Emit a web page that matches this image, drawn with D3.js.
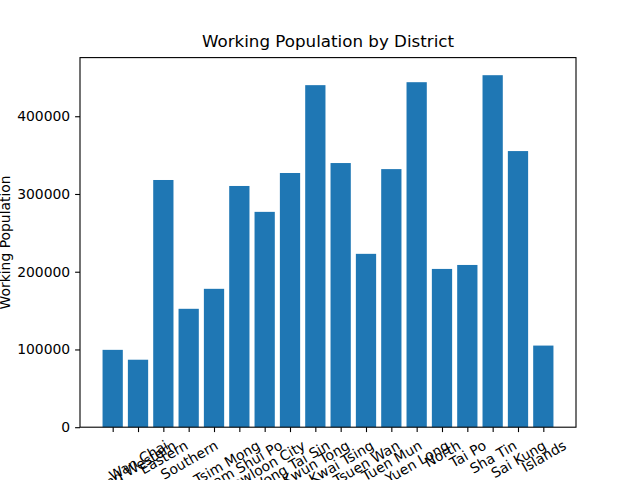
<!DOCTYPE html>
<html>
<head>
<meta charset="utf-8">
<script src="https://cdn.jsdelivr.net/npm/d3@7"></script>
<style>
  body { margin: 0; background: #fff; }
  text { font-family: "DejaVu Sans", sans-serif; fill: #000; }
</style>
</head>
<body>
<div class="chart"></div>
<script>
// districts and their working population
var districts = ['Central and Western', 'Wan Chai', 'Eastern', 'Southern', 'Yau Tsim Mong',
  'Sham Shui Po', 'Kowloon City', 'Wong Tai Sin', 'Kwun Tong', 'Kwai Tsing', 'Tsuen Wan',
  'Tuen Mun', 'Yuen Long', 'North', 'Tai Po', 'Sha Tin', 'Sai Kung', 'Islands'];
var workers = [99500, 86800, 318000, 152300, 178000, 310300, 277000, 327000, 440000,
  339800, 223000, 332000, 443800, 203600, 208700, 452800, 355200, 105000];
var yTicks = [0, 100000, 200000, 300000, 400000];

var margin = { top: 57.6, right: 64, bottom: 52.8, left: 80 };
var width = 640 - margin.left - margin.right;
var height = 480 - margin.top - margin.bottom;

var svg = d3.select('.chart')
  .append('svg')
    .attr('width', 640)
    .attr('height', 480)
  .append('g')
    .attr('transform', `translate(${margin.left}, ${margin.top})`);

// matplotlib style limits: bars of width 0.8 plus 5% margin
var barW = 0.8;
var lo = -barW / 2, hi = districts.length - 1 + barW / 2;
var pad = (hi - lo) * 0.05;
var xScale = d3.scaleLinear()
  .domain([lo - pad, hi + pad])
  .range([0, width]);

var yScale = d3.scaleLinear()
  .domain([0, d3.max(workers) * 1.05])
  .range([height, 0]);

svg.selectAll('rect.bar')
  .data(workers)
  .enter()
  .append('rect')
    .attr('class', 'bar')
    .attr('x', (d, i) => xScale(i - barW / 2))
    .attr('width', xScale(barW) - xScale(0))
    .attr('y', d => yScale(d))
    .attr('height', d => height - yScale(d))
    .style('fill', '#1f77b4');

// y axis
var yAxis = d3.axisLeft(yScale)
  .tickValues(yTicks)
  .tickFormat(d3.format('d'))
  .tickSizeInner(4.9)
  .tickSizeOuter(0)
  .tickPadding(4.9);

svg.append('g')
  .call(yAxis)
  .call(g => g.select('.domain').remove())
  .call(g => g.selectAll('text').style('font-size', '13.9px').style('font-family', '"DejaVu Sans"'))
  .call(g => g.selectAll('line').attr('stroke-width', 1.1));

// x axis
var xAxis = d3.axisBottom(xScale)
  .tickValues(d3.range(districts.length))
  .tickFormat(i => districts[i])
  .tickSizeInner(4.9)
  .tickSizeOuter(0);

var gx = svg.append('g')
  .attr('transform', `translate(0, ${height})`)
  .call(xAxis)
  .call(g => g.select('.domain').remove())
  .call(g => g.selectAll('line').attr('stroke-width', 1.1));

// rotate labels 30 degrees, centred like matplotlib (bbox centre on tick, bbox top below tick)
var lineH = 13.9 * 1.164;
var sin30 = Math.sin(Math.PI / 6), cos30 = Math.cos(Math.PI / 6);
gx.selectAll('.tick text')
  .style('font-size', '13.9px')
  .style('font-family', '"DejaVu Sans"')
  .attr('text-anchor', 'middle')
  .attr('dy', null)
  .attr('dominant-baseline', 'central')
  .each(function () {
    var w = this.getComputedTextLength();
    var bh = w * sin30 + lineH * cos30;
    var cy = 4.9 + 4.9 + bh / 2;
    d3.select(this)
      .attr('y', 0)
      .attr('x', 0)
      .attr('transform', `translate(0, ${cy}) rotate(-30)`);
  });

// frame
svg.append('rect')
  .attr('width', width)
  .attr('height', height)
  .style('fill', 'none')
  .style('stroke', '#000')
  .style('stroke-width', 1.1);

// title and y label
svg.append('text')
  .attr('x', width / 2)
  .attr('y', -10.8)
  .attr('text-anchor', 'middle')
  .style('font-size', '16.7px')
  .text('Working Population by District');

svg.append('text')
  .attr('transform', `translate(${10.2 - margin.left}, ${height / 2}) rotate(-90)`)
  .attr('text-anchor', 'middle')
  .style('font-size', '13.9px')
  .text('Working Population');
</script>
</body>
</html>
